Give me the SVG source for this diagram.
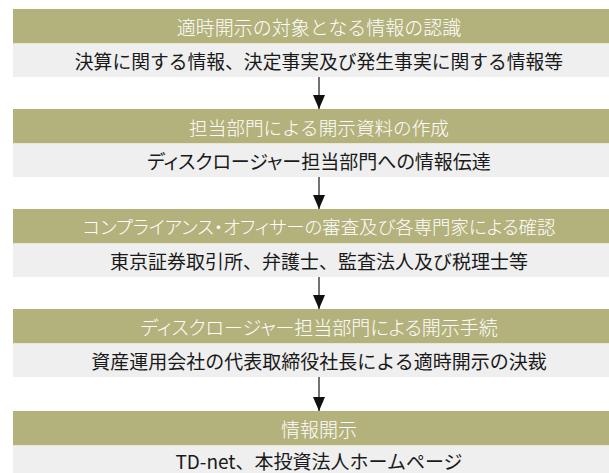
<svg xmlns="http://www.w3.org/2000/svg" width="609" height="473" viewBox="0 0 609 473">
<defs>
<marker id="ah" markerWidth="14" markerHeight="12" refX="14" refY="6" orient="auto" markerUnits="userSpaceOnUse" viewBox="0 0 14 12">
<path d="M0,0 L14,6 L0,12 Z" fill="#111"/>
</marker>
<style>
.hd{fill:#b4b27c}
.bd{fill:#efefef}
.sep{stroke:#e9e7cf;stroke-width:1}
.ht{fill:#ffffff;font-family:"Noto Sans CJK JP","Noto Sans",sans-serif;font-size:19px;font-weight:300;text-anchor:middle;dominant-baseline:central}
.bt{fill:#1a1a1a;font-family:"Noto Sans CJK JP","Noto Sans",sans-serif;font-size:19px;text-anchor:middle;dominant-baseline:central}
.p{font-feature-settings:"palt"}
.cn{stroke:#444;stroke-width:1.5;fill:none}
</style>
</defs>
<rect width="609" height="473" fill="#ffffff"/>
<g id="node1">
<rect class="hd" x="13" y="9" width="612" height="34"/>
<rect class="bd" x="13" y="43" width="612" height="34"/>
<line class="sep" x1="13" y1="43.5" x2="625" y2="43.5"/>
<text class="ht" x="319" y="26">適時開示の対象となる情報の認識</text>
<text class="bt" x="319" y="60" style="font-size:18.8px">決算に関する情報、決定事実及び発生事実に関する情報等</text>
</g>
<g id="node2">
<rect class="hd" x="13" y="109" width="612" height="34"/>
<rect class="bd" x="13" y="143" width="612" height="34"/>
<line class="sep" x1="13" y1="143.5" x2="625" y2="143.5"/>
<text class="ht" x="319" y="126" style="font-size:18.6px">担当部門による開示資料の作成</text>
<text class="bt p" x="319" y="160">ディスクロージャー担当部門への情報伝達</text>
</g>
<g id="node3">
<rect class="hd" x="13" y="209" width="612" height="34"/>
<rect class="bd" x="13" y="243" width="612" height="34"/>
<line class="sep" x1="13" y1="243.5" x2="625" y2="243.5"/>
<text class="ht p" x="319" y="226" style="font-size:18.4px">コンプライアンス・オフィサーの審査及び各専門家による確認</text>
<text class="bt" x="319" y="260">東京証券取引所、弁護士、監査法人及び税理士等</text>
</g>
<g id="node4">
<rect class="hd" x="13" y="309" width="612" height="34"/>
<rect class="bd" x="13" y="343" width="612" height="34"/>
<line class="sep" x1="13" y1="343.5" x2="625" y2="343.5"/>
<text class="ht p" x="319" y="326">ディスクロージャー担当部門による開示手続</text>
<text class="bt" x="319" y="360">資産運用会社の代表取締役社長による適時開示の決裁</text>
</g>
<g id="node5">
<rect class="hd" x="13" y="411" width="612" height="34"/>
<rect class="bd" x="13" y="445" width="612" height="34"/>
<line class="sep" x1="13" y1="445.5" x2="625" y2="445.5"/>
<text class="ht" x="319" y="428">情報開示</text>
<text class="bt" x="319" y="460.5">TD-net、本投資法人ホームページ</text>
</g>
<g id="connectors">
<line class="cn" x1="319" y1="77" x2="319" y2="109" marker-end="url(#ah)"/>
<line class="cn" x1="319" y1="177" x2="319" y2="209" marker-end="url(#ah)"/>
<line class="cn" x1="319" y1="277" x2="319" y2="309" marker-end="url(#ah)"/>
<line class="cn" x1="319" y1="377" x2="319" y2="411" marker-end="url(#ah)"/>
</g>
</svg>
